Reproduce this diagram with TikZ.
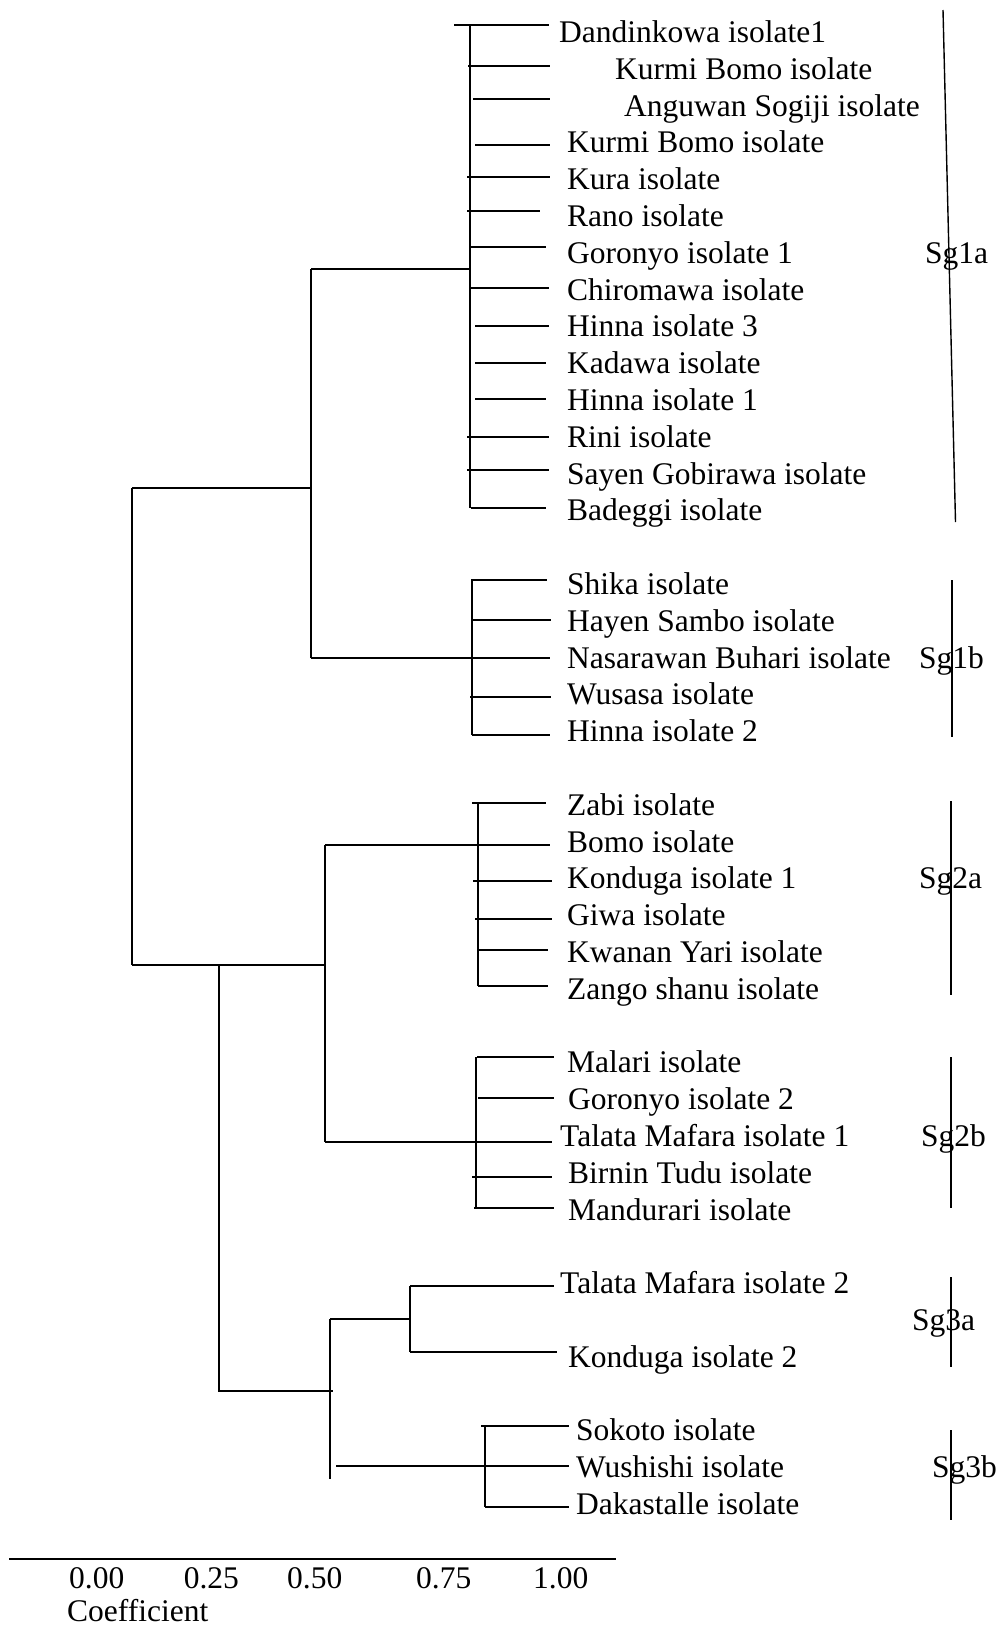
\documentclass[tikz,border=0pt]{standalone}
\usepackage{fontspec}
\setmainfont{Liberation Serif}
\begin{document}
\begin{tikzpicture}[x=1pt,y=-1pt,
leaf/.style={anchor=base west, inner sep=0pt, font=\fontsize{31.5}{36}\selectfont},
branch/.style={line width=2pt},
bracket/.style={line width=1.4pt}
]
\useasboundingbox (0,0) rectangle (999,1625);
\foreach \nm/\y/\xs/\xe/\lx/\b/\txt in {
a1/25/454/549/559/42.5/Dandinkowa isolate1,
a2/66/468/550/615/79.3/Kurmi Bomo isolate,
a3/99/473/550/624/116.1/Anguwan Sogiji isolate,
a4/145/475/550/567/152.9/Kurmi Bomo isolate,
a5/177/467/550/567/189.7/Kura isolate,
a6/211/467/540/567/226.5/Rano isolate,
a7/247/471/546/567/263.3/Goronyo isolate 1,
a8/288/470/549/567/300.1/Chiromawa isolate,
a9/326/475/549/567/336.9/Hinna isolate 3,
a10/363/475/546/567/373.7/Kadawa isolate,
a11/399/475/546/567/410.5/Hinna isolate 1,
a12/437/467/549/567/447.3/Rini isolate,
a13/470/467/549/567/484.1/Sayen Gobirawa isolate,
a14/508/471/546/567/520.9/Badeggi isolate,
b1/580/471/547/567/594.5/Shika isolate,
b2/620/472/551/567/631.3/Hayen Sambo isolate,
b3/658/311/550/567/668.1/Nasarawan Buhari isolate,
b4/697/470/551/567/704.9/Wusasa isolate,
b5/735/472/550/567/741.7/Hinna isolate 2,
c1/803/472/546/567/815.3/Zabi isolate,
c2/845/325/550/567/852.1/Bomo isolate,
c3/881/473/552/567/888.9/Konduga isolate 1,
c4/919/475/552/567/925.7/Giwa isolate,
c5/950/478/548/567/962.5/Kwanan Yari isolate,
c6/986/478/548/567/999.3/Zango shanu isolate,
d1/1057/477/554/567/1072.9/Malari isolate,
d2/1098/478/554/568/1109.7/Goronyo isolate 2,
d3/1142/325/552/560/1146.5/Talata Mafara isolate 1,
d4/1177/472/552/568/1183.3/Birnin Tudu isolate,
d5/1208/474/554/568/1220.1/Mandurari isolate,
e1/1286/410/554/560/1293.7/Talata Mafara isolate 2,
e2/1352/410/557/568/1367.3/Konduga isolate 2,
f1/1426/481/569/576/1440.9/Sokoto isolate,
f2/1466/336/569/576/1477.7/Wushishi isolate,
f3/1507/485/569/576/1514.5/Dakastalle isolate}
{
	\coordinate (\nm s) at (\xs,\y);
	\coordinate (\nm e) at (\xe,\y);
	\node[leaf] (\nm) at (\lx,\b) {\txt};
	\draw[branch] (\nm s) -- (\nm e);
}
\coordinate (n1a) at (470,269);
\coordinate (n1b) at (472,658);
\coordinate (n1) at (311,488);
\coordinate (root) at (132,965);
\coordinate (n2) at (325,965);
\coordinate (n2a) at (478,845);
\coordinate (n2b) at (476,1142);
\coordinate (n3c) at (219,965);
\coordinate (n3s) at (330,1391);
\coordinate (n3a) at (410,1319);
\coordinate (n3e) at (330,1479);
\coordinate (n3b) at (485,1466);
\draw[branch] (a1s -| n1a) -- (a14s -| n1a);
\draw[branch] (n1 |- n1a) -- (n1a);
\draw[branch] (b1s -| n1b) -- (b5s -| n1b);
\draw[branch] (n1 |- n1a) -- (n1 |- b3s);
\draw[branch] (root |- n1) -- (n1);
\draw[branch] (root |- n1) -- (root);
\draw[branch] (root) -- (n2);
\draw[branch] (n2 |- c2s) -- (n2 |- d3s);
\draw[branch] (c1s -| n2a) -- (c6s -| n2a);
\draw[branch] (d1s -| n2b) -- (d5s -| n2b);
\draw[branch] (n3c) -- (n3c |- n3s) -- ([xshift=3pt]n3s);
\draw[branch] (n3s |- n3a) -- (n3e);
\draw[branch] (n3s |- n3a) -- (n3a);
\draw[branch] (e1s) -- (e2s);
\draw[branch] (f1s -| n3b) -- (f3s -| n3b);
\foreach \g/\lx/\b/\tx/\ty/\bx/\by in {
1a/925/263.3/943/10/955.5/522,
1b/919/668.1/952/580/952/737,
2a/919/888.9/951/801/951/995,
2b/921/1146.5/951/1057/951/1208,
3a/912/1330.7/951/1277/951/1367,
3b/932/1477/951/1430/951/1520}
{
	\node[leaf] (sg\g) at (\lx,\b) {Sg\g};
	\coordinate (sg\g t) at (\tx,\ty);
	\coordinate (sg\g b) at (\bx,\by);
	\draw[bracket] (sg\g t) -- (sg\g b);
}
\coordinate (ax0) at (9,1559);
\coordinate (ax1) at (616,1559);
\draw[branch] (ax0) -- (ax1);
\foreach \v/\x [count=\i] in {0.00/69,0.25/183.6,0.50/287,0.75/416,1.00/533}
	\node[leaf] (tick\i) at (\x,1588.4) {\v};
\node[leaf] (coef) at (67,1621) {Coefficient};
\end{tikzpicture}
\end{document}
